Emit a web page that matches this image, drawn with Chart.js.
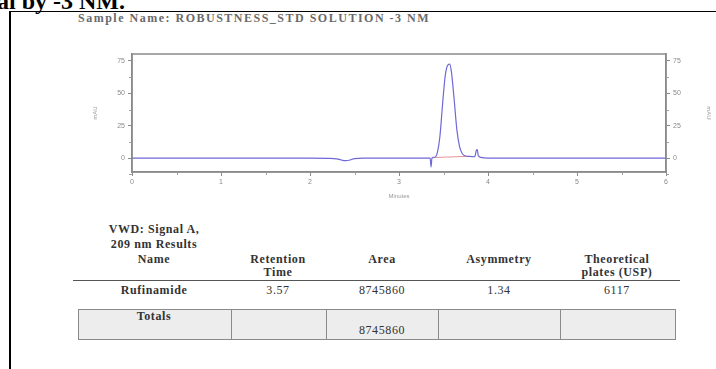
<!DOCTYPE html>
<html>
<head>
<meta charset="utf-8">
<script src="https://cdn.jsdelivr.net/npm/chart.js@4.4.1/dist/chart.umd.min.js"></script>
<style>
  html, body { margin: 0; padding: 0; background: #fff; }
  body { width: 716px; height: 369px; position: relative; overflow: hidden; font-family: "Liberation Serif", "Times New Roman", serif; }
  .abs { position: absolute; white-space: nowrap; }
  #heading { left: -3px; top: -12px; font-size: 24px; line-height: 27px; font-weight: bold; color: #000; }
  #frame { left: 9px; top: 11px; width: 720px; height: 380px; border-left: 2.5px solid #000; border-top: 1.5px solid #000; }
  #sample { left: 78px; top: 12px; font-size: 12px; line-height: 13px; font-weight: bold; color: #6a6a6a; letter-spacing: 1.5px; }
  #chartBox { left: 0; top: 0; width: 716px; height: 205px; }
  .cell { position: absolute; text-align: center; font-size: 12px; line-height: 13px; color: #333; letter-spacing: 0.6px; }
  .b { font-weight: bold; }
  #rule { left: 73px; top: 280px; width: 607px; height: 0; border-top: 1.5px solid #555; }
  .tot { position: absolute; top: 309px; height: 31px; background: #ededed; border: 1.5px solid #8a8a8a; box-sizing: border-box; }
</style>
</head>
<body>
<div id="heading" class="abs">al by -3 NM.</div>
<div id="frame" class="abs"></div>
<div id="sample" class="abs">Sample Name: ROBUSTNESS_STD SOLUTION -3 NM</div>
<div id="chartBox" class="abs"><canvas id="chrom" width="716" height="205"></canvas></div>
<div id="table"></div>
<script>
// Chromatogram trace: retention time (minutes) and detector response (mAU)
const times = [0.00, 0.50, 1.00, 1.50, 2.00, 2.20, 2.30, 2.35, 2.40, 2.45, 2.50, 2.60, 3.00,
               3.30, 3.35, 3.36, 3.37, 3.40, 3.43, 3.46, 3.49, 3.52, 3.55, 3.57, 3.59, 3.62,
               3.65, 3.68, 3.71, 3.75, 3.80, 3.85, 3.87, 3.88, 3.89, 3.92, 4.00, 4.50, 5.00,
               5.50, 6.00];
const absorbance = [0.0, 0.0, 0.0, 0.0, 0.0, -0.2, -0.6, -1.5, -2.0, -1.5, -0.4, 0.0, 0.0,
                    0.0, 0.0, -7.0, 0.0, 0.5, 4.0, 17.0, 42.0, 64.0, 72.0, 72.5, 66.0, 45.0,
                    22.0, 9.0, 3.5, 1.5, 1.2, 1.0, 6.0, 6.5, 2.0, 0.5, 0.0, 0.0, 0.0,
                    0.0, 0.0];

// Integration baseline under the main peak
const baselineTimes = [3.40, 3.76];
const baselineValues = [0.4, 1.3];

// Axis ticks
const xTicks = [0, 1, 2, 3, 4, 5, 6];
const yTicks = [0, 25, 50, 75];
const xMinorStep = 0.5;
const yMinorStep = 12.5;

// Peak table
const tableTitle = ["VWD: Signal A,", "209 nm Results"];
const columnHeaders = [["Name"], ["Retention", "Time"], ["Area"], ["Asymmetry"], ["Theoretical", "plates (USP)"]];
const peakRow = ["Rufinamide", "3.57", "8745860", "1.34", "6117"];
const totalsRow = ["Totals", "", "8745860", "", ""];

const toPoints = (xs, ys) => xs.map((x, i) => ({ x: x, y: ys[i] }));

const frameAndMinorTicks = {
  id: 'frameAndMinorTicks',
  afterDraw(chart) {
    const { ctx, chartArea: a, scales } = chart;
    ctx.save();
    ctx.strokeStyle = '#8a8a8a';
    ctx.lineWidth = 1.5;
    ctx.strokeRect(a.left, a.top, a.right - a.left, a.bottom - a.top);
    ctx.lineWidth = 1;
    ctx.strokeStyle = '#a0a0a0';
    ctx.beginPath();
    for (let v = scales.x.min; v <= scales.x.max + 1e-9; v += xMinorStep) {
      if (Math.abs(v - Math.round(v)) < 1e-6) continue;
      const px = Math.round(scales.x.getPixelForValue(v)) + 0.5;
      ctx.moveTo(px, a.bottom); ctx.lineTo(px, a.bottom + 3);
    }
    for (let v = -yMinorStep; v <= scales.y.max; v += yMinorStep) {
      if (Math.abs(v % 25) < 1e-6) continue;
      const py = Math.round(scales.y.getPixelForValue(v)) + 0.5;
      ctx.moveTo(a.left - 3, py); ctx.lineTo(a.left, py);
      ctx.moveTo(a.right, py); ctx.lineTo(a.right + 3, py);
    }
    ctx.stroke();
    ctx.restore();
  }
};

const tickFont = { family: 'Liberation Sans', size: 7 };
const yScale = (pos, width) => ({
  type: 'linear',
  position: pos,
  min: -10.8,
  max: 80.4,
  afterBuildTicks: s => { s.ticks = yTicks.map(v => ({ value: v })); },
  afterFit: s => { s.width = width; },
  ticks: { font: tickFont, color: '#8a8a8a', padding: 3 },
  grid: { drawOnChartArea: false, tickLength: 4, color: '#8a8a8a' },
  border: { color: '#8a8a8a', width: 1.5 },
  title: { display: true, text: 'mAU', font: { family: 'Liberation Sans', size: 6 }, color: '#999', padding: 0 }
});

new Chart(document.getElementById('chrom'), {
  type: 'line',
  data: {
    datasets: [
      {
        data: toPoints(baselineTimes, baselineValues),
        borderColor: 'rgba(225,120,130,0.8)',
        borderWidth: 1,
        pointRadius: 0
      },
      {
        data: toPoints(times, absorbance),
        borderColor: '#6f68d6',
        borderWidth: 1.2,
        pointRadius: 0,
        cubicInterpolationMode: 'monotone'
      }
    ]
  },
  options: {
    responsive: false,
    animation: false,
    devicePixelRatio: 1,
    layout: { padding: { left: 92, right: 4, top: 54, bottom: 5 } },
    plugins: { legend: { display: false }, tooltip: { enabled: false } },
    scales: {
      x: {
        type: 'linear',
        position: 'bottom',
        min: 0,
        max: 6,
        afterBuildTicks: s => { s.ticks = xTicks.map(v => ({ value: v })); },
        afterFit: s => { s.height = 28; },
        ticks: { font: tickFont, color: '#8a8a8a', padding: 2 },
        grid: { drawOnChartArea: false, tickLength: 4, color: '#8a8a8a' },
        border: { color: '#8a8a8a', width: 1.5 },
        title: { display: true, text: 'Minutes', font: { family: 'Liberation Sans', size: 6 }, color: '#999', padding: 0 }
      },
      y: yScale('left', 40),
      y2: yScale('right', 46)
    }
  },
  plugins: [frameAndMinorTicks]
});

// Peak table
const colCenters = [154, 278, 382, 499, 617];
const colEdges = [78, 231, 326, 438, 560, 676];
const tbl = document.getElementById('table');
const addText = (text, cx, top, bold) => {
  const d = document.createElement('div');
  d.className = 'cell' + (bold ? ' b' : '');
  d.style.left = (cx - 80) + 'px';
  d.style.width = '160px';
  d.style.top = top + 'px';
  d.textContent = text;
  tbl.appendChild(d);
};
tableTitle.forEach((t, i) => addText(t, colCenters[0], 223 + i * 15, true));
columnHeaders.forEach((lines, c) => lines.forEach((t, i) => addText(t, colCenters[c], 253 + i * 13, true)));
const rule = document.createElement('div');
rule.id = 'rule'; rule.className = 'abs';
tbl.appendChild(rule);
peakRow.forEach((t, c) => addText(t, colCenters[c], 284, c === 0));
totalsRow.forEach((t, c) => {
  const box = document.createElement('div');
  box.className = 'tot';
  box.style.left = colEdges[c] + 'px';
  box.style.width = (colEdges[c + 1] - colEdges[c] + (c < 4 ? 1.5 : 0)) + 'px';
  tbl.appendChild(box);
});
totalsRow.forEach((t, c) => { if (t) addText(t, colCenters[c], c === 0 ? 310 : 324, c === 0); });
</script>
</body>
</html>
